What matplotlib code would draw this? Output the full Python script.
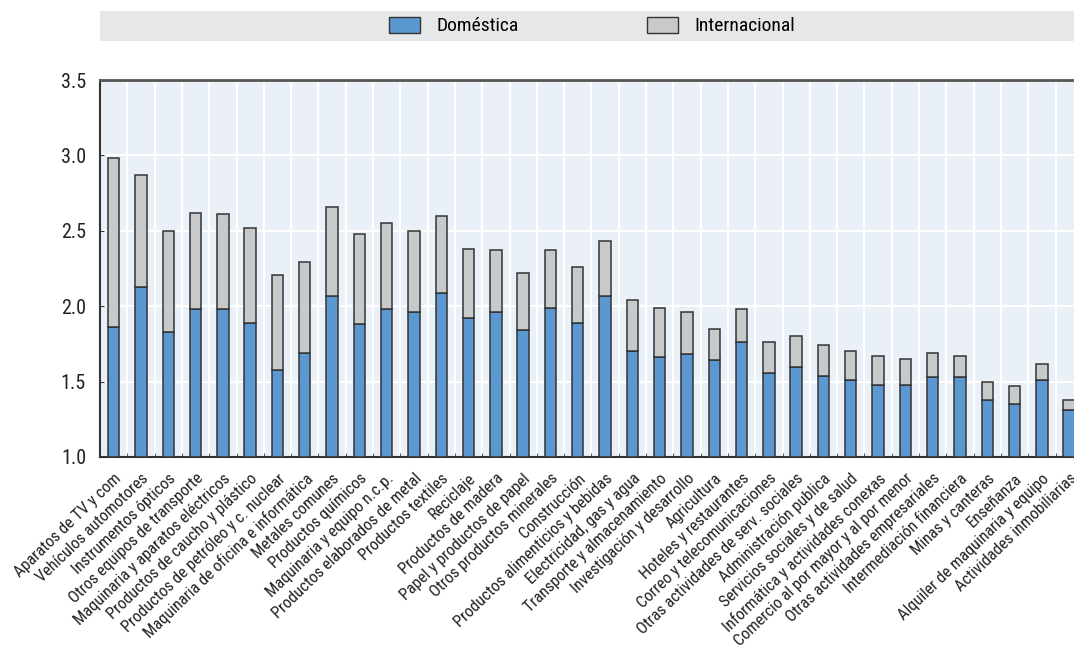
import numpy as np
import matplotlib
matplotlib.use('Agg')
import matplotlib.pyplot as plt
from matplotlib.patches import Patch
from matplotlib import font_manager

# pick a narrow font if one is installed
nombres = set(f.name for f in font_manager.fontManager.ttflist)
fuente = 'Roboto'
for n in ['Liberation Sans Narrow', 'Roboto Condensed', 'Open Sans Condensed', 'DejaVu Sans Condensed']:
    if n in nombres:
        fuente = n
        break
plt.rcParams['font.family'] = [fuente, 'DejaVu Sans']
if fuente == 'DejaVu Sans':
    plt.rcParams['font.stretch'] = 'condensed'

# categories, left to right
sectores = ['Aparatos de TV y com', 'Vehículos automotores', 'Instrumentos ópticos',
            'Otros equipos de transporte', 'Maquinaria y aparatos eléctricos',
            'Productos de caucho y plástico', 'Productos de petróleo y c. nuclear',
            'Maquinaria de oficina e informática', 'Metales comunes', 'Productos químicos',
            'Maquinaria y equipo n.c.p.', 'Productos elaborados de metal', 'Productos textiles',
            'Reciclaje', 'Productos de madera', 'Papel y productos de papel',
            'Otros productos minerales', 'Construcción', 'Productos alimenticios y bebidas',
            'Electricidad, gas y agua', 'Transporte y almacenamiento',
            'Investigación y desarrollo', 'Agricultura', 'Hoteles y restaurantes',
            'Correo y telecomunicaciones', 'Otras actividades de serv. sociales',
            'Administración publica', 'Servicios sociales y de salud',
            'Informática y actividades conexas', 'Comercio al por mayor y al por menor',
            'Otras actividades empresariales', 'Intermediación financiera',
            'Minas y canteras', 'Enseñanza', 'Alquiler de maquinaria y equipo',
            'Actividades inmobiliarias']

# top of the domestic part and total height of each bar
domestica = [1.86, 2.13, 1.83, 1.98, 1.98, 1.89, 1.58, 1.69, 2.07, 1.88,
             1.98, 1.96, 2.09, 1.92, 1.96, 1.84, 1.99, 1.89, 2.07, 1.70,
             1.66, 1.68, 1.64, 1.76, 1.56, 1.60, 1.54, 1.51, 1.48, 1.48,
             1.53, 1.53, 1.38, 1.35, 1.51, 1.31]
total = [2.98, 2.87, 2.50, 2.62, 2.61, 2.52, 2.21, 2.29, 2.66, 2.48,
         2.55, 2.50, 2.60, 2.38, 2.37, 2.22, 2.37, 2.26, 2.43, 2.04,
         1.99, 1.96, 1.85, 1.98, 1.76, 1.80, 1.74, 1.70, 1.67, 1.65,
         1.69, 1.67, 1.50, 1.47, 1.62, 1.375]

azul = '#5b97d0'
gris = '#c8c9cb'
borde = '#333333'

base = 1.0
dom = np.array(domestica)
inter = np.array(total) - dom
x = np.arange(len(sectores))

fig = plt.figure(figsize=(10.74, 6.49), dpi=100)

# legend band on top
band = fig.add_axes([100/1074, 1-41/649, 974/1074, 30/649])
band.set_facecolor('#e6e7e9')
for s in band.spines.values():
    s.set_visible(False)
band.set_xticks([])
band.set_yticks([])
handles = [Patch(facecolor=azul, edgecolor=borde, label='Doméstica'),
           Patch(facecolor=gris, edgecolor=borde, label='Internacional')]
band.legend(handles=handles, loc='center', ncol=2, frameon=False, fontsize=14,
            handlelength=1.6, handleheight=0.9, handletextpad=0.85, columnspacing=6.6,
            bbox_to_anchor=(0.505, 0.5))

# main chart
ax = fig.add_axes([100/1074, 1-457/649, 36*27.3/1074, 377/649])
ax.set_facecolor('#e9f0f8')
ax.bar(x, dom - base, width=0.42, bottom=base, color=azul, edgecolor=borde, linewidth=1.1, zorder=3)
ax.bar(x, inter, width=0.42, bottom=dom, color=gris, edgecolor=borde, linewidth=1.1, zorder=3)

ax.set_xlim(-0.5, len(sectores) - 0.5)
ax.set_ylim(1.0, 3.5)
ax.set_yticks([1.0, 1.5, 2.0, 2.5, 3.0, 3.5])
ax.set_yticklabels(['1.0', '1.5', '2.0', '2.5', '3.0', '3.5'], fontsize=14.5, color='#222222')
ax.set_xticks(x)
ax.set_xticklabels(sectores, rotation=44, ha='right', rotation_mode='anchor',
                   fontsize=11.8, color='#222222')
ax.set_xticks(x[:-1] + 0.5, minor=True)
ax.tick_params(axis='x', which='major', length=0, pad=10)
ax.tick_params(axis='x', which='minor', direction='in', length=3, color=borde)
ax.tick_params(axis='y', direction='in', length=3, color=borde, pad=10)

ax.grid(axis='y', color='white', linewidth=1.5, zorder=1)
ax.grid(axis='x', which='minor', color='white', linewidth=1.5, zorder=1)
ax.set_axisbelow(True)

for side in ['left', 'bottom']:
    ax.spines[side].set_color(borde)
    ax.spines[side].set_linewidth(1.5)
ax.spines['top'].set_color('#555555')
ax.spines['top'].set_linewidth(2)
ax.spines['right'].set_visible(False)

fig.savefig('out.png', dpi=100)
